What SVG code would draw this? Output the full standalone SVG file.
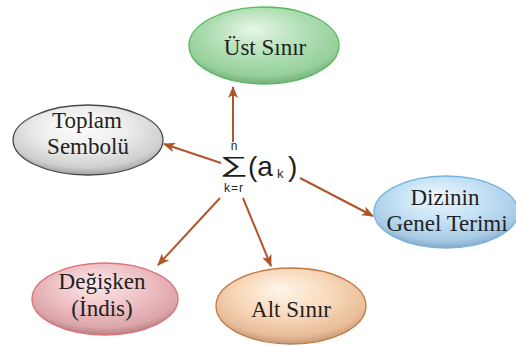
<svg xmlns="http://www.w3.org/2000/svg" width="516" height="346" viewBox="0 0 516 346">
  <style>
    .lbl { font-family: "Liberation Serif", "Times New Roman", serif; font-size: 23px; fill: #231f20; text-anchor: middle; }
    .math { font-family: "Liberation Sans", Arial, sans-serif; fill: #231f20; }
    .edge { stroke: #b0552a; stroke-width: 2; fill: none; marker-end: url(#arrow); }
  </style>
  <defs>
    <marker id="arrow" viewBox="0 0 12 10" refX="11" refY="5" markerWidth="12" markerHeight="10" markerUnits="userSpaceOnUse" orient="auto">
      <path d="M0,0 L12,5 L0,10 L3,5 Z" fill="#b0552a"/>
    </marker>
    <radialGradient id="gGreen" cx="50%" cy="38%" r="62%" fx="42%" fy="28%">
      <stop offset="0" stop-color="#e8f6e8"/>
      <stop offset="0.5" stop-color="#b0dfb4"/>
      <stop offset="0.85" stop-color="#97d09c"/>
      <stop offset="1" stop-color="#78ad7c"/>
    </radialGradient>
    <radialGradient id="gGray" cx="50%" cy="38%" r="62%" fx="42%" fy="28%">
      <stop offset="0" stop-color="#ffffff"/>
      <stop offset="0.5" stop-color="#ececec"/>
      <stop offset="0.85" stop-color="#cfcfcf"/>
      <stop offset="1" stop-color="#a2a2a2"/>
    </radialGradient>
    <radialGradient id="gBlue" cx="50%" cy="38%" r="62%" fx="42%" fy="28%">
      <stop offset="0" stop-color="#f0f8fe"/>
      <stop offset="0.5" stop-color="#c4e1f5"/>
      <stop offset="0.85" stop-color="#a8cbe6"/>
      <stop offset="1" stop-color="#87a9c4"/>
    </radialGradient>
    <radialGradient id="gPink" cx="50%" cy="38%" r="62%" fx="42%" fy="28%">
      <stop offset="0" stop-color="#fbeaec"/>
      <stop offset="0.5" stop-color="#efc2c6"/>
      <stop offset="0.85" stop-color="#dca6aa"/>
      <stop offset="1" stop-color="#b48286"/>
    </radialGradient>
    <radialGradient id="gPeach" cx="50%" cy="38%" r="62%" fx="42%" fy="28%">
      <stop offset="0" stop-color="#fff5ea"/>
      <stop offset="0.5" stop-color="#f8d9ba"/>
      <stop offset="0.85" stop-color="#e9bd9a"/>
      <stop offset="1" stop-color="#c49a7a"/>
    </radialGradient>
  </defs>

  <!-- connectors from the central sum to each part -->
  <g id="connectors">
    <line class="edge" x1="233" y1="142" x2="233" y2="87"/>
    <line class="edge" x1="221" y1="163" x2="164" y2="144"/>
    <line class="edge" x1="300" y1="178" x2="373" y2="216"/>
    <line class="edge" x1="220" y1="198" x2="158" y2="265"/>
    <line class="edge" x1="243" y1="198" x2="271" y2="266"/>
  </g>

  <!-- central expression: summation with limits -->
  <g id="sum">
    <text class="math" transform="translate(234,172) scale(1.8,1)" x="0" y="0" font-size="22" text-anchor="middle">∑</text>
    <text class="math" x="234" y="150" font-size="12" text-anchor="middle">n</text>
    <text class="math" x="234" y="192" font-size="12" letter-spacing="1" text-anchor="middle">k=r</text>
    <text class="math" x="248" y="176" font-size="28">(a</text>
    <text class="math" x="277" y="178" font-size="13">k</text>
    <text class="math" x="288" y="176" font-size="28">)</text>
  </g>

  <g id="ust-sinir">
    <ellipse cx="264" cy="45.5" rx="75" ry="38.5" fill="url(#gGreen)" stroke="#55bb5c" stroke-width="1.3"/>
    <text class="lbl" x="265" y="55">Üst Sınır</text>
  </g>

  <g id="toplam-sembolu">
    <ellipse cx="88" cy="140" rx="75" ry="35" fill="url(#gGray)" stroke="#4a4a4a" stroke-width="1.3"/>
    <text class="lbl" x="87" y="128">Toplam</text>
    <text class="lbl" x="88" y="154">Sembolü</text>
  </g>

  <g id="dizinin-genel-terimi">
    <ellipse cx="446" cy="212" rx="72" ry="36" fill="url(#gBlue)" stroke="#74b4e2" stroke-width="1.3"/>
    <text class="lbl" x="445" y="205">Dizinin</text>
    <text class="lbl" x="447" y="231">Genel Terimi</text>
  </g>

  <g id="degisken">
    <ellipse cx="105" cy="299" rx="73" ry="36" fill="url(#gPink)" stroke="#de7278" stroke-width="1.3"/>
    <text class="lbl" x="102" y="289">Değişken</text>
    <text class="lbl" x="102" y="316">(İndis)</text>
  </g>

  <g id="alt-sinir">
    <ellipse cx="291" cy="306" rx="75" ry="38" fill="url(#gPeach)" stroke="#c47a42" stroke-width="1.3"/>
    <text class="lbl" x="291" y="317">Alt Sınır</text>
  </g>
</svg>
